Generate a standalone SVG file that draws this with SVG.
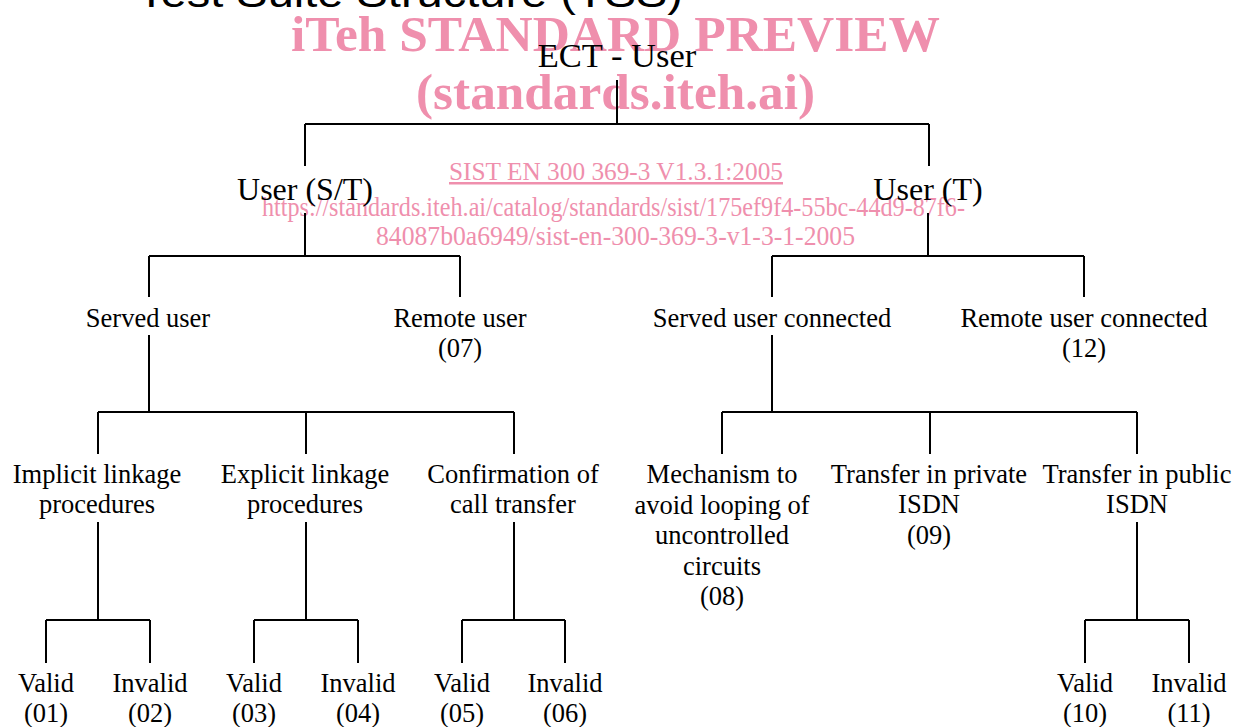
<svg xmlns="http://www.w3.org/2000/svg" width="1235" height="727" viewBox="0 0 1235 727">
<style>
.wm{fill:#EF8FAD;font-family:"Liberation Serif","Times New Roman",serif}
.wmb{font-weight:bold;font-size:51px}
.wms{font-size:25px}
.wmu{font-size:28px}
.t{fill:#000;font-family:"Liberation Serif","Times New Roman",serif;font-size:26.5px;text-anchor:middle}
.t2{font-size:32px}
.t1{font-size:34.5px}
.title{fill:#000;font-family:"Liberation Sans",Arial,sans-serif;font-size:40px}
.c{fill:none;stroke:#000;stroke-width:2}
</style>
<rect width="1235" height="727" fill="#fff"/>
<text class="title" x="137" y="7" textLength="546" lengthAdjust="spacingAndGlyphs">Test Suite Structure (TSS)</text>
<g id="watermark">
<text class="wm wmb" x="291" y="51" textLength="649" lengthAdjust="spacingAndGlyphs">iTeh STANDARD PREVIEW</text>
<text class="wm wmb" x="416" y="109" textLength="399" lengthAdjust="spacingAndGlyphs">(standards.iteh.ai)</text>
<text class="wm wms" x="449" y="180" textLength="334" lengthAdjust="spacingAndGlyphs" text-decoration="underline">SIST EN 300 369-3 V1.3.1:2005</text>
<text class="wm wmu" x="262" y="216" textLength="703" lengthAdjust="spacingAndGlyphs">https://standards.iteh.ai/catalog/standards/sist/175ef9f4-55bc-44d9-87f6-</text>
<text class="wm wmu" x="376" y="245" textLength="479" lengthAdjust="spacingAndGlyphs">84087b0a6949/sist-en-300-369-3-v1-3-1-2005</text>
</g>
<g id="connectors" class="c">
<path d="M617,80V124M305,124H929M305,124V166M929,124V166"/>
<path d="M305,213V256M149,256H460M149,256V297M460,256V297"/>
<path d="M928,213V256M772,256H1084M772,256V297M1084,256V297"/>
<path d="M149,335V412M98,412H514M98,412V454M306,412V454M514,412V454"/>
<path d="M772,335V412M722,412H1137M722,412V454M930,412V454M1137,412V454"/>
<path d="M98,522V620M46,620H150M46,620V663M150,620V663"/>
<path d="M306,522V620M254,620H358M254,620V663M358,620V663"/>
<path d="M514,522V620M462,620H565M462,620V663M565,620V663"/>
<path d="M1137,522V620M1085,620H1189M1085,620V663M1189,620V663"/>
</g>
<g id="n-root"><text class="t t1" x="617" y="67">ECT - User</text></g>
<g id="n-user-st"><text class="t t2" x="305" y="200">User (S/T)</text></g>
<g id="n-user-t"><text class="t t2" x="928" y="200">User (T)</text></g>
<g id="n-served"><text class="t" x="148" y="327">Served user</text></g>
<g id="n-remote"><text class="t" x="460" y="327">Remote user</text><text class="t" x="460" y="357">(07)</text></g>
<g id="n-served-conn"><text class="t" x="772" y="327">Served user connected</text></g>
<g id="n-remote-conn"><text class="t" x="1084" y="327">Remote user connected</text><text class="t" x="1084" y="357">(12)</text></g>
<g id="n-implicit"><text class="t" x="97" y="483">Implicit linkage</text><text class="t" x="97" y="513">procedures</text></g>
<g id="n-explicit"><text class="t" x="305" y="483">Explicit linkage</text><text class="t" x="305" y="513">procedures</text></g>
<g id="n-confirm"><text class="t" x="513" y="483">Confirmation of</text><text class="t" x="513" y="513">call transfer</text></g>
<g id="n-mechanism"><text class="t" x="722" y="483">Mechanism to</text><text class="t" x="722" y="513.5">avoid looping of</text><text class="t" x="722" y="544">uncontrolled</text><text class="t" x="722" y="574.5">circuits</text><text class="t" x="722" y="605">(08)</text></g>
<g id="n-private"><text class="t" x="929" y="483">Transfer in private</text><text class="t" x="929" y="513">ISDN</text><text class="t" x="929" y="544">(09)</text></g>
<g id="n-public"><text class="t" x="1137" y="483">Transfer in public</text><text class="t" x="1137" y="513">ISDN</text></g>
<g id="n-v01"><text class="t" x="46" y="692">Valid</text><text class="t" x="46" y="722">(01)</text></g>
<g id="n-i02"><text class="t" x="150" y="692">Invalid</text><text class="t" x="150" y="722">(02)</text></g>
<g id="n-v03"><text class="t" x="254" y="692">Valid</text><text class="t" x="254" y="722">(03)</text></g>
<g id="n-i04"><text class="t" x="358" y="692">Invalid</text><text class="t" x="358" y="722">(04)</text></g>
<g id="n-v05"><text class="t" x="462" y="692">Valid</text><text class="t" x="462" y="722">(05)</text></g>
<g id="n-i06"><text class="t" x="565" y="692">Invalid</text><text class="t" x="565" y="722">(06)</text></g>
<g id="n-v10"><text class="t" x="1085" y="692">Valid</text><text class="t" x="1085" y="722">(10)</text></g>
<g id="n-i11"><text class="t" x="1189" y="692">Invalid</text><text class="t" x="1189" y="722">(11)</text></g>
</svg>
